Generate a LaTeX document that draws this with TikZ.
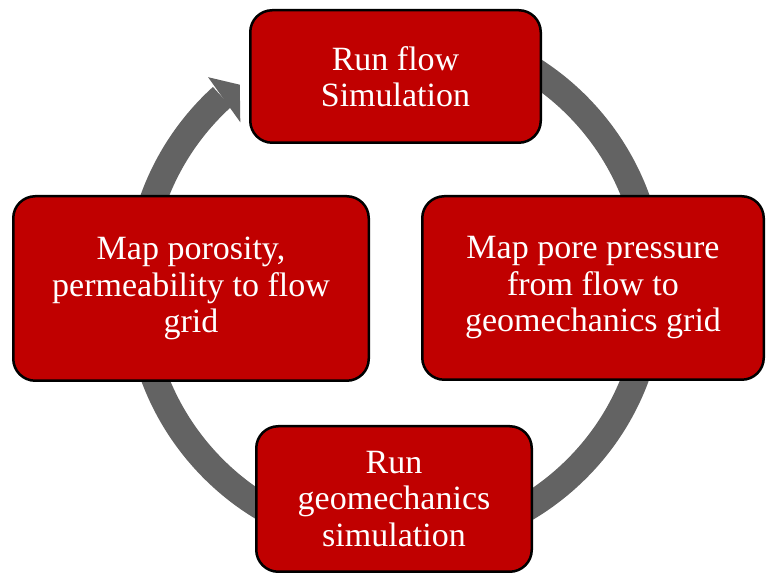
\documentclass[tikz,border=0pt]{standalone}
\usepackage{fontspec}
\setmainfont{Liberation Serif}
\definecolor{boxred}{HTML}{C00000}
\definecolor{ringgray}{HTML}{636363}
\tikzset{
  stagebox/.style={draw=black, line width=2.5pt, fill=boxred, rounded corners=22pt,
    text=white, align=center, inner sep=0pt,
    font=\fontsize{34}{36.5}\selectfont},
  ringline/.style={draw=ringgray, line width=27pt, line cap=butt},
  ringhead/.style={fill=ringgray}
}
\begin{document}
\begin{tikzpicture}[x=1pt, y=1pt]
\useasboundingbox (0,0) rectangle (766,575);
\coordinate (C) at (395,288);
% circular arrow
\draw[ringline] (C) ++(132.3:257) arc[start angle=132.3, end angle=470, radius=257];
\begin{scope}[shift={(C)}]
  \fill[ringhead] (131.7:281) -- (127.5:255) -- (133.2:226) -- cycle;
\end{scope}
% stages
\node[stagebox, minimum width=290.5pt, minimum height=132.5pt] (flow) at (395.5,498.5)
  {Run flow\\Simulation};
\node[stagebox, minimum width=355.5pt, minimum height=184.5pt] (mapperm) at (191,286.5)
  {Map porosity,\\permeability to flow\\grid};
\node[stagebox, minimum width=341.5pt, minimum height=183.5pt] (mappress) at (593,287)
  {Map pore pressure\\from flow to\\geomechanics grid};
\node[stagebox, minimum width=275.5pt, minimum height=145.5pt] (geo) at (394,76)
  {Run\\geomechanics\\simulation};
\end{tikzpicture}
\end{document}
